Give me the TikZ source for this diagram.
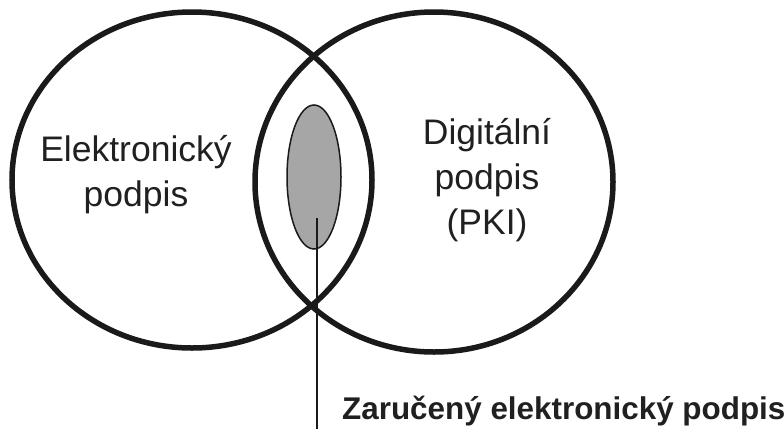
\documentclass[tikz,border=0pt]{standalone}
\usepackage{fontspec}
\setmainfont{Liberation Sans}
\usetikzlibrary{shapes.geometric}
\definecolor{ink}{HTML}{1A1A1A}
\definecolor{txt}{HTML}{202020}
\definecolor{core}{HTML}{A6A6A6}
\begin{document}
\begin{tikzpicture}[x=1pt,y=-1pt,
  setring/.style={ellipse, draw=ink, line width=5.5pt, inner sep=0pt},
  setlabel/.style={align=center, text=txt, inner sep=0pt,
    font=\fontsize{35.5}{45}\selectfont},
  corebox/.style={ellipse, draw=ink, fill=core, line width=1.5pt,
    minimum width=54pt, minimum height=144pt, inner sep=0pt},
  pointer/.style={draw=ink, line width=2.4pt},
  caption/.style={text=txt, inner sep=0pt,
    font=\fontsize{31.4}{36}\selectfont\bfseries}]
  \useasboundingbox (0,0) rectangle (784,429);

  % the two overlapping sets
  \node[setring, minimum width=360pt, minimum height=336pt] (es) at (192,180) {};
  \node[setring, minimum width=358pt, minimum height=340pt] (ds) at (434,182) {};

  % set names
  \node[setlabel] (esname) at (136,175) {Elektronický\\podpis};
  \node[setlabel] (dsname) at (487,180) {Digitální\\podpis\\(PKI)};

  % intersection subset
  \node[corebox] (zep) at (314,177) {};

  % leader to the caption
  \coordinate (tip) at (317,218);
  \coordinate (foot) at (317,429);
  \draw[pointer] (tip) -- (foot);

  \node[caption, anchor=base west] (zepname) at (342,419) {Zaručený elektronický podpis};
\end{tikzpicture}
\end{document}
